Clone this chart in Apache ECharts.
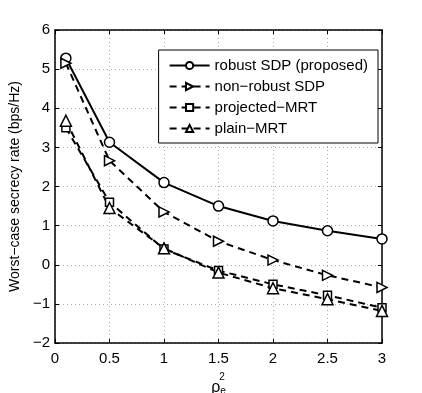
<!DOCTYPE html>
<html>
<head>
<meta charset="utf-8">
<script src="https://cdn.jsdelivr.net/npm/echarts@6/dist/echarts.min.js"></script>
<style>
html, body { margin: 0; padding: 0; background: #fff; }
#chart { width: 422px; height: 393px; }
</style>
</head>
<body>
<div id="chart"></div>
<script>
// rho_e^2 values
var rho = [0.1, 0.5, 1, 1.5, 2, 2.5, 3];
var robustSdp = [5.28, 3.13, 2.1, 1.5, 1.12, 0.87, 0.66];
var nonRobustSdp = [5.15, 2.66, 1.35, 0.6, 0.12, -0.27, -0.58];
var projectedMrt = [3.5, 1.6, 0.4, -0.15, -0.5, -0.78, -1.1];
var plainMrt = [3.68, 1.45, 0.42, -0.2, -0.6, -0.88, -1.18];
var xTicks = [0, 0.5, 1, 1.5, 2, 2.5, 3];

var font = 'Liberation Sans, Arial, sans-serif';
var rightTri = 'path://M0,0 L10,5 L0,10 Z';

function pairs(ys) {
	return rho.map(function(x, i) { return [x, ys[i]]; });
}

function mkSeries(name, ys, symbol, size, dashed) {
	return {
		name: name,
		type: 'line',
		data: pairs(ys),
		symbol: symbol,
		symbolSize: size,
		showAllSymbol: true,
		itemStyle: { color: '#fff', borderColor: '#000', borderWidth: 1.5 },
		lineStyle: { color: '#000', width: 2, type: dashed ? [7, 5] : 'solid' },
		emphasis: { disabled: true },
		animation: false,
		z: 3
	};
}

var axisLine = { show: true, onZero: false, lineStyle: { color: '#000', width: 1.5 } };
var tick = { show: true, inside: true, length: 4, lineStyle: { color: '#000' } };
var dotted = { show: true, lineStyle: { color: '#aaa', type: [1, 3], width: 1 } };

var chart = echarts.init(document.getElementById('chart'));
chart.setOption({
	backgroundColor: '#fff',
	animation: false,
	textStyle: { fontFamily: font },
	grid: { left: 55, right: 40, top: 30, bottom: 50, containLabel: false, outerBoundsMode: 'none' },
	legend: {
		orient: 'vertical',
		right: 44,
		top: 50,
		itemWidth: 40,
		itemHeight: 9,
		itemGap: 6,
		padding: [8, 10, 7, 10],
		backgroundColor: '#fff',
		borderColor: '#000',
		borderWidth: 1,
		textStyle: { fontFamily: font, fontSize: 15, color: '#000' },
		data: ['robust SDP (proposed)', 'non\u2212robust SDP', 'projected\u2212MRT', 'plain\u2212MRT']
	},
	xAxis: [{
		type: 'value',
		min: 0, max: 3, interval: 0.5,
		// rho with subscript e and superscript 2 stacked
		name: '{g|}{s|2}\n{b|\u03c1}{e|e}',
		nameLocation: 'middle',
		nameGap: 13,
		nameTextStyle: {
			verticalAlign: 'top',
			rich: {
				g: { width: 7, height: 6, lineHeight: 6 },
				s: { fontFamily: font, fontSize: 10, color: '#000', lineHeight: 6 },
				b: { fontFamily: font, fontSize: 16, color: '#000', lineHeight: 16 },
				e: { fontFamily: font, fontSize: 10, color: '#000', lineHeight: 10, verticalAlign: 'bottom' }
			}
		},
		axisLine: axisLine,
		axisTick: tick,
		axisLabel: { fontSize: 15, color: '#000', margin: 8, fontFamily: font,
			formatter: function(v) { return xTicks.indexOf(v) >= 0 ? String(v) : ''; } },
		splitLine: dotted
	}, {
		type: 'value', position: 'top', min: 0, max: 3, interval: 0.5,
		axisLine: axisLine,
		axisTick: tick,
		axisLabel: { show: false },
		splitLine: { show: false }
	}],
	yAxis: [{
		type: 'value',
		min: -2, max: 6, interval: 1,
		name: 'Worst\u2212case secrecy rate (bps/Hz)',
		nameLocation: 'middle',
		nameGap: 32,
		nameTextStyle: { fontFamily: font, fontSize: 14, color: '#000' },
		axisLine: axisLine,
		axisTick: tick,
		axisLabel: { fontSize: 15, color: '#000', margin: 5, fontFamily: font,
			formatter: function(v) { return v < 0 ? '\u2212' + (-v) : String(v); } },
		splitLine: dotted
	}, {
		type: 'value', position: 'right', min: -2, max: 6, interval: 1,
		axisLine: axisLine,
		axisTick: tick,
		axisLabel: { show: false },
		splitLine: { show: false }
	}],
	series: [
		mkSeries('robust SDP (proposed)', robustSdp, 'circle', 10, false),
		mkSeries('non\u2212robust SDP', nonRobustSdp, rightTri, 10, true),
		mkSeries('projected\u2212MRT', projectedMrt, 'rect', 8, true),
		mkSeries('plain\u2212MRT', plainMrt, 'triangle', 11, true)
	]
});
</script>
</body>
</html>
